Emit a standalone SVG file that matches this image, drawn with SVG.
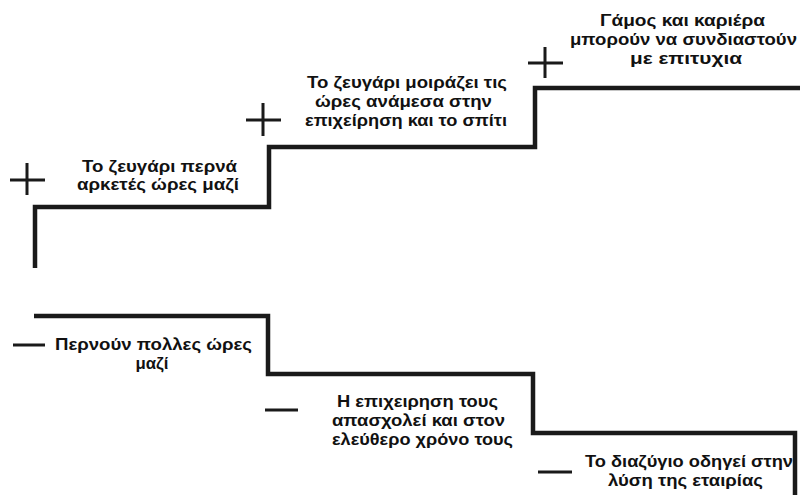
<svg xmlns="http://www.w3.org/2000/svg" width="800" height="495" viewBox="0 0 800 495">
<style>
.step{fill:none;stroke:#1a1a1a;stroke-width:4.5;stroke-linejoin:miter}
.sign{stroke:#1a1a1a;stroke-width:3;fill:none}
.lbl{font-family:"Liberation Sans",Arial,sans-serif;font-weight:bold;font-size:17px;fill:#111;text-anchor:middle}
</style>
<rect width="800" height="495" fill="#fff"/>
<g id="connectors">
<path class="step" d="M35,268 V207 H269 V147 H535 V88 H800"/>
<path class="step" d="M34,316 H268 V374 H533 V433 H795 V495"/>
</g>
<g id="plus1"><path class="sign" d="M10,180 H45 M27,163 V195"/></g>
<g id="plus2"><path class="sign" d="M246,120 H281 M263,103 V136"/></g>
<g id="plus3"><path class="sign" d="M528,63 H563 M545,47 V78"/></g>
<g id="minus1"><path class="sign" d="M13,345 H45"/></g>
<g id="minus2"><path class="sign" d="M265,410 H298"/></g>
<g id="minus3"><path class="sign" d="M538,472 H572"/></g>
<g id="n1"><text class="lbl" x="159.5" y="172" textLength="155" lengthAdjust="spacingAndGlyphs">Το ζευγάρι περνά</text><text class="lbl" x="158" y="190" textLength="162" lengthAdjust="spacingAndGlyphs">αρκετές ώρες μαζί</text></g>
<g id="n2"><text class="lbl" x="407" y="88" textLength="200" lengthAdjust="spacingAndGlyphs">Το ζευγάρι μοιράζει τις</text><text class="lbl" x="403.5" y="107" textLength="177" lengthAdjust="spacingAndGlyphs">ώρες ανάμεσα στην</text><text class="lbl" x="406" y="126" textLength="202" lengthAdjust="spacingAndGlyphs">επιχείρηση και το σπίτι</text></g>
<g id="n3"><text class="lbl" x="682.5" y="26" textLength="165" lengthAdjust="spacingAndGlyphs">Γάμος και καριέρα</text><text class="lbl" x="683.5" y="45" textLength="227" lengthAdjust="spacingAndGlyphs">μπορούν να συνδιαστούν</text><text class="lbl" x="686" y="64" textLength="112" lengthAdjust="spacingAndGlyphs">με επιτυχια</text></g>
<g id="n4"><text class="lbl" x="153.5" y="350" textLength="197" lengthAdjust="spacingAndGlyphs">Περνούν πολλες ώρες</text><text class="lbl" x="152" y="369" textLength="33" lengthAdjust="spacingAndGlyphs">μαζί</text></g>
<g id="n5"><text class="lbl" x="417.5" y="407" textLength="161" lengthAdjust="spacingAndGlyphs">Η επιχειρηση τους</text><text class="lbl" x="418.5" y="426" textLength="173" lengthAdjust="spacingAndGlyphs">απασχολεί και στον</text><text class="lbl" x="422.5" y="445" textLength="181" lengthAdjust="spacingAndGlyphs">ελεύθερο χρόνο τους</text></g>
<g id="n6"><text class="lbl" x="689" y="467" textLength="208" lengthAdjust="spacingAndGlyphs">Το διαζύγιο οδηγεί στην</text><text class="lbl" x="685.5" y="486" textLength="155" lengthAdjust="spacingAndGlyphs">λύση της εταιρίας</text></g>
</svg>
